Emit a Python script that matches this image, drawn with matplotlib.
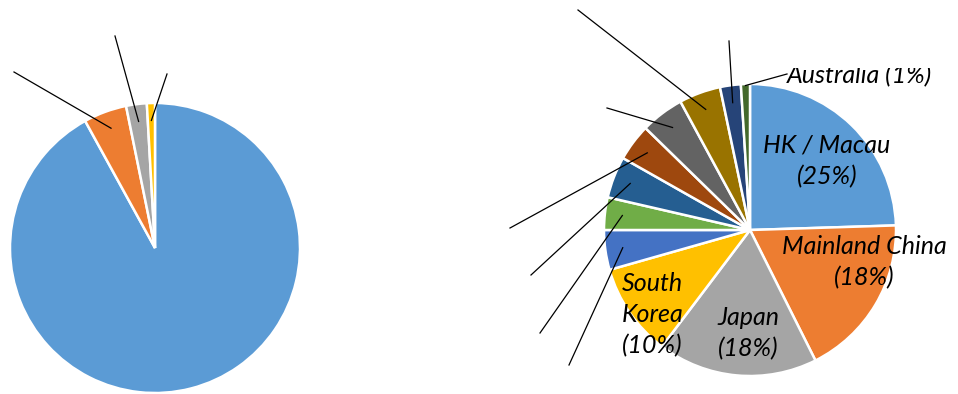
import numpy as np
import matplotlib
matplotlib.use("Agg")
import matplotlib.pyplot as plt
from matplotlib.transforms import Bbox, TransformedBbox

# ---- data ----
left_values = [92.0, 4.8, 2.3, 0.9]
left_colors = ["#5B9BD5", "#ED7D31", "#A5A5A5", "#FFC000"]

right_categories = ["HK / Macau", "Mainland China", "Japan", "South Korea",
                    "Other 1", "Other 2", "Other 3", "Other 4", "Other 5",
                    "Other 6", "Other 7", "Australia"]
right_values = [24.5, 18.1, 17.7, 10.3, 4.4, 3.6, 4.6, 4.1, 4.8, 4.6, 2.3, 1.0]
right_labels_shown = ["25%", "18%", "18%", "10%", None, None, None, None,
                      None, None, None, "1%"]
right_colors = ["#5B9BD5", "#ED7D31", "#A5A5A5", "#FFC000", "#4472C4",
                "#70AD47", "#255E91", "#9E480E", "#636363", "#997300",
                "#264478", "#43682B"]

W, H = 958, 394
fig = plt.figure(figsize=(W / 100, H / 100), dpi=100)
ax = fig.add_axes([0, 0, 1, 1])

def py(y):  # pixel-from-top -> data y
    return H - y

wp = dict(edgecolor="white", linewidth=1.8)

L_center, L_r = (155, py(248)), 145
lw_, _ = ax.pie(left_values, colors=left_colors, startangle=90, counterclock=False,
                center=L_center, radius=L_r, wedgeprops=wp, frame=True)

R_center, R_r = (750, py(230)), 146
rw_, _ = ax.pie(right_values, colors=right_colors, startangle=90, counterclock=False,
                center=R_center, radius=R_r, wedgeprops=wp, frame=True)
ax.set_xlim(0, W)
ax.set_ylim(0, H)
ax.set_aspect("equal")
ax.axis("off")

def inner_point(w, frac=0.88):
    mid = np.deg2rad((w.theta1 + w.theta2) / 2)
    cx, cy = w.center
    return cx + frac * w.r * np.cos(mid), cy + frac * w.r * np.sin(mid)

def leader(w, end, frac=0.88):
    x0, y0 = inner_point(w, frac)
    ax.plot([x0, end[0]], [y0, py(end[1])], color="black", lw=0.9)

# left pie leader lines (labels lie outside the picture)
left_ends = {1: (14, 72), 2: (115, 36), 3: (167, 74)}
for i, e in left_ends.items():
    leader(lw_[i], e)

# right pie leader lines
right_ends = {4: (569, 365), 5: (540, 333), 6: (531, 275), 7: (510, 228),
              8: (607, 108), 9: (578, 10), 10: (729, 41)}
for i, e in right_ends.items():
    leader(rw_[i], e)
leader(rw_[11], (787, 74), frac=0.99)

font = dict(family=["Lato", "DejaVu Sans"], style="italic", fontsize=18,
            color="black", linespacing=1.42)

def lab(i, name):
    return f"{name}\n({right_labels_shown[i]})"

ax.text(827, py(161), lab(0, right_categories[0]), ha="center", va="center", **font)
ax.text(864, py(262), lab(1, right_categories[1]), ha="center", va="center", **font)
ax.text(748, py(333), lab(2, right_categories[2]), ha="center", va="center", **font)
ax.text(622, py(315), "South\nKorea\n(" + right_labels_shown[3] + ")",
        ha="left", va="center", **font)

t = ax.text(787, py(83), f"{right_categories[11]} ({right_labels_shown[11]})",
            ha="left", va="baseline", **font)
t.set_clip_box(TransformedBbox(Bbox([[700, 0], [958, py(68)]]), ax.transData))
t.set_clip_on(True)

fig.savefig("out.png", dpi=100)
